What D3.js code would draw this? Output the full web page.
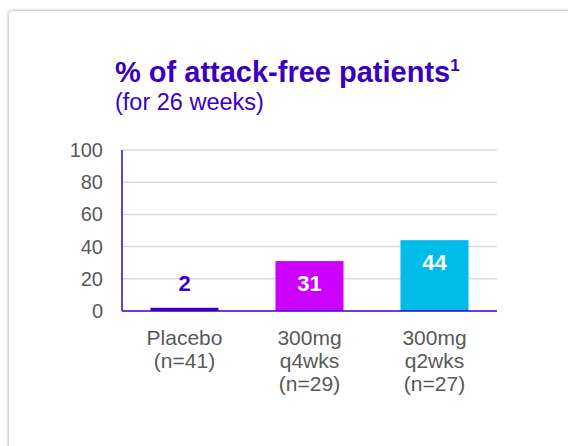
<!DOCTYPE html>
<html>
<head>
<meta charset="utf-8">
<script src="https://cdn.jsdelivr.net/npm/d3@7"></script>
<style>
  html, body { margin: 0; padding: 0; background: #ffffff; }
  svg { display: block; font-family: "Liberation Sans", Arial, sans-serif; }
</style>
</head>
<body>
<svg id="chart" width="568" height="446"></svg>
<script>
// Attack-free patients over 26 weeks, by treatment arm
const categories = [
  ["Placebo", "(n=41)"],
  ["300mg", "q4wks", "(n=29)"],
  ["300mg", "q2wks", "(n=27)"]
];
const values = [2, 31, 44];
const barColors = ["#3a00bf", "#cc00ff", "#00bce8"];
const labelColors = ["#3a00bf", "#ffffff", "#ffffff"];
const yTicks = [0, 20, 40, 60, 80, 100];

const svg = d3.select("#chart");

// card frame with soft shadow
const defs = svg.append("defs");
const f = defs.append("filter").attr("id", "shadow")
  .attr("x", "-5%").attr("y", "-5%").attr("width", "110%").attr("height", "110%");
f.append("feGaussianBlur").attr("in", "SourceAlpha").attr("stdDeviation", 1.5);
f.append("feComponentTransfer").append("feFuncA").attr("type", "linear").attr("slope", 0.25);
const m = f.append("feMerge");
m.append("feMergeNode");
m.append("feMergeNode").attr("in", "SourceGraphic");

svg.append("rect")
  .attr("x", 8.5).attr("y", 10.5)
  .attr("width", 620).attr("height", 500)
  .attr("rx", 4)
  .attr("fill", "#ffffff")
  .attr("stroke", "#d6d6d6")
  .attr("stroke-width", 1)
  .attr("filter", "url(#shadow)");

// title block
const purple = "#3a00bf";
const title = svg.append("text")
  .attr("x", 115).attr("y", 82)
  .attr("fill", purple)
  .attr("font-size", 29)
  .attr("font-weight", "bold");
title.append("tspan").text("% of attack-free patients");
title.append("tspan").text("1")
  .attr("font-size", 17).attr("dy", -11);

svg.append("text")
  .attr("x", 115).attr("y", 110)
  .attr("fill", purple)
  .attr("font-size", 23.5)
  .text("(for 26 weeks)");

// plot area
const plotLeft = 122, plotRight = 497, plotTop = 150, plotBottom = 311;

const x = d3.scaleBand()
  .domain(d3.range(categories.length))
  .range([plotLeft, plotRight])
  .paddingInner(0.456)
  .paddingOuter(0.228);

const y = d3.scaleLinear().domain([0, 100]).range([plotBottom, plotTop]);

// gridlines
svg.append("g")
  .selectAll("line")
  .data(yTicks.filter(d => d > 0))
  .join("line")
  .attr("x1", plotLeft).attr("x2", plotRight)
  .attr("y1", d => y(d)).attr("y2", d => y(d))
  .attr("stroke", "#d9d9d9")
  .attr("stroke-width", 1.5);

// y axis tick labels
const yAxis = d3.axisLeft(y).tickValues(yTicks).tickSize(0).tickPadding(19);
const gy = svg.append("g").attr("transform", `translate(${plotLeft},0)`).call(yAxis);
gy.select(".domain").remove();
gy.selectAll("text")
  .attr("font-size", 20)
  .attr("font-family", "\"Liberation Sans\", Arial, sans-serif")
  .attr("fill", "#595959");

// bars
svg.append("g")
  .selectAll("rect")
  .data(values)
  .join("rect")
  .attr("x", (d, i) => x(i))
  .attr("width", x.bandwidth())
  .attr("y", d => y(d))
  .attr("height", d => y(0) - y(d))
  .attr("fill", (d, i) => barColors[i]);

// axis lines
svg.append("line")
  .attr("x1", plotLeft).attr("x2", plotLeft)
  .attr("y1", plotTop).attr("y2", plotBottom)
  .attr("stroke", purple).attr("stroke-width", 1.5);
svg.append("line")
  .attr("x1", plotLeft).attr("x2", plotRight)
  .attr("y1", plotBottom).attr("y2", plotBottom)
  .attr("stroke", purple).attr("stroke-width", 1.5);

// value labels
svg.append("g")
  .selectAll("text")
  .data(values)
  .join("text")
  .attr("x", (d, i) => x(i) + x.bandwidth() / 2)
  .attr("y", d => Math.min(y(d) + 29.5, y(0) - 20.5))
  .attr("text-anchor", "middle")
  .attr("font-size", 22)
  .attr("font-weight", "bold")
  .attr("fill", (d, i) => labelColors[i])
  .text(d => d);

// category labels
const cat = svg.append("g")
  .selectAll("text")
  .data(categories)
  .join("text")
  .attr("text-anchor", "middle")
  .attr("font-size", 21)
  .attr("fill", "#595959");
cat.each(function(lines, i) {
  d3.select(this).selectAll("tspan")
    .data(lines)
    .join("tspan")
    .attr("x", x(i) + x.bandwidth() / 2)
    .attr("y", (d, j) => 344.5 + j * 23.4)
    .text(d => d);
});
</script>
</body>
</html>
